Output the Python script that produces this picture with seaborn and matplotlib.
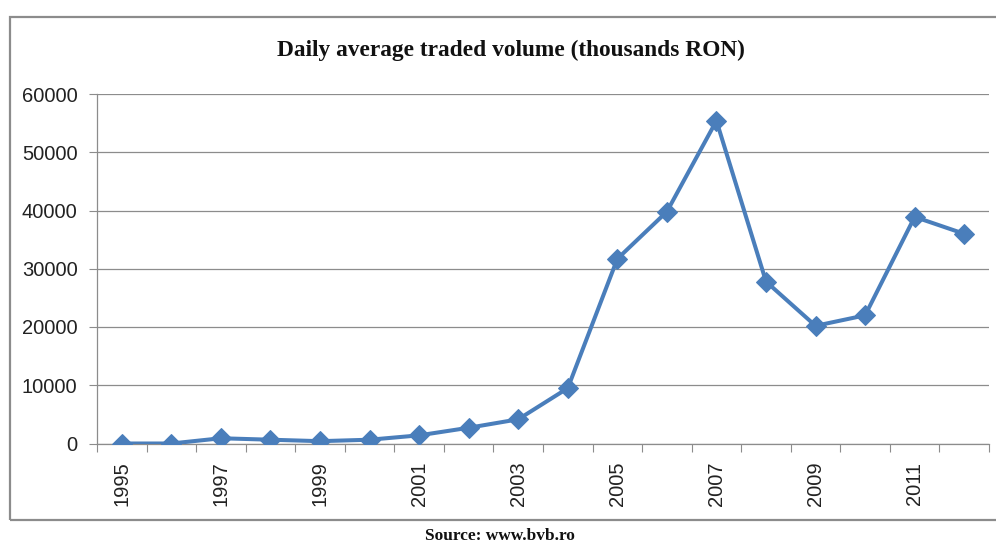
import numpy as np
import pandas as pd
import seaborn as sns
import matplotlib.pyplot as plt
from matplotlib.patches import Rectangle

# values
years = list(range(1995, 2013))
volume = [0, 0, 900, 650, 400, 650, 1400, 2700, 4150, 9500,
          31700, 39800, 55400, 27800, 20200, 22000, 38900, 36000]
label_years = [1995, 1997, 1999, 2001, 2003, 2005, 2007, 2009, 2011]
y_ticks = [0, 10000, 20000, 30000, 40000, 50000, 60000]

df = pd.DataFrame({'Year': years, 'Volume': volume})

sns.set_style('white')
plt.rcParams['font.family'] = ['Liberation Sans', 'DejaVu Sans']

fig = plt.figure(figsize=(9.96, 5.43), dpi=100)
ax = fig.add_axes([97 / 996, 1 - 443.5 / 543, (989 - 97) / 996, (443.5 - 94) / 543])

sns.lineplot(data=df, x='Year', y='Volume', ax=ax, color='#4a7ebb',
             linewidth=2.9, marker='D', markersize=10,
             markeredgecolor='#4a7ebb', zorder=3)

ax.set_xlim(1994.5, 2012.5)
ax.set_ylim(0, 60000)
ax.set_yticks(y_ticks)
ax.set_yticklabels([str(v) for v in y_ticks])
ax.set_xticks(label_years)
ax.set_xticklabels([str(y) for y in label_years], rotation=90)
ax.set_xticks(np.arange(1994.5, 2013, 1.0), minor=True)
ax.tick_params(axis='x', which='major', length=0, pad=13,
               labelsize=14.5, labelcolor='#222222')
ax.tick_params(axis='x', which='minor', length=6, width=0.8,
               color='#8c8c8c', direction='out', bottom=True)
ax.tick_params(axis='y', length=6, width=0.8, color='#8c8c8c',
               direction='out', left=True, pad=8,
               labelsize=14.5, labelcolor='#222222')

ax.yaxis.grid(True, color='#8c8c8c', linewidth=0.9)
ax.xaxis.grid(False)
ax.set_axisbelow(True)
for side in ['top', 'right']:
    ax.spines[side].set_visible(False)
for side in ['left', 'bottom']:
    ax.spines[side].set_color('#8c8c8c')
    ax.spines[side].set_linewidth(0.9)
ax.set_xlabel('')
ax.set_ylabel('')

fig.text(511 / 996, 1 - 50 / 543, 'Daily average traded volume (thousands RON)',
         ha='center', va='center', fontsize=16.8, fontweight='bold',
         family=['Liberation Serif', 'DejaVu Serif'], color='#111111')
fig.text(500 / 996, 1 - 536 / 543, 'Source: www.bvb.ro',
         ha='center', va='center', fontsize=12.5, fontweight='bold',
         family=['Liberation Serif', 'DejaVu Serif'], color='#111111')

frame = Rectangle((10 / 996, 1 - 520 / 543), 1.1, (520 - 17) / 543,
                  transform=fig.transFigure, fill=False,
                  edgecolor='#8c8c8c', linewidth=1.6, clip_on=False)
fig.patches.append(frame)

fig.savefig('out.png', dpi=100)
